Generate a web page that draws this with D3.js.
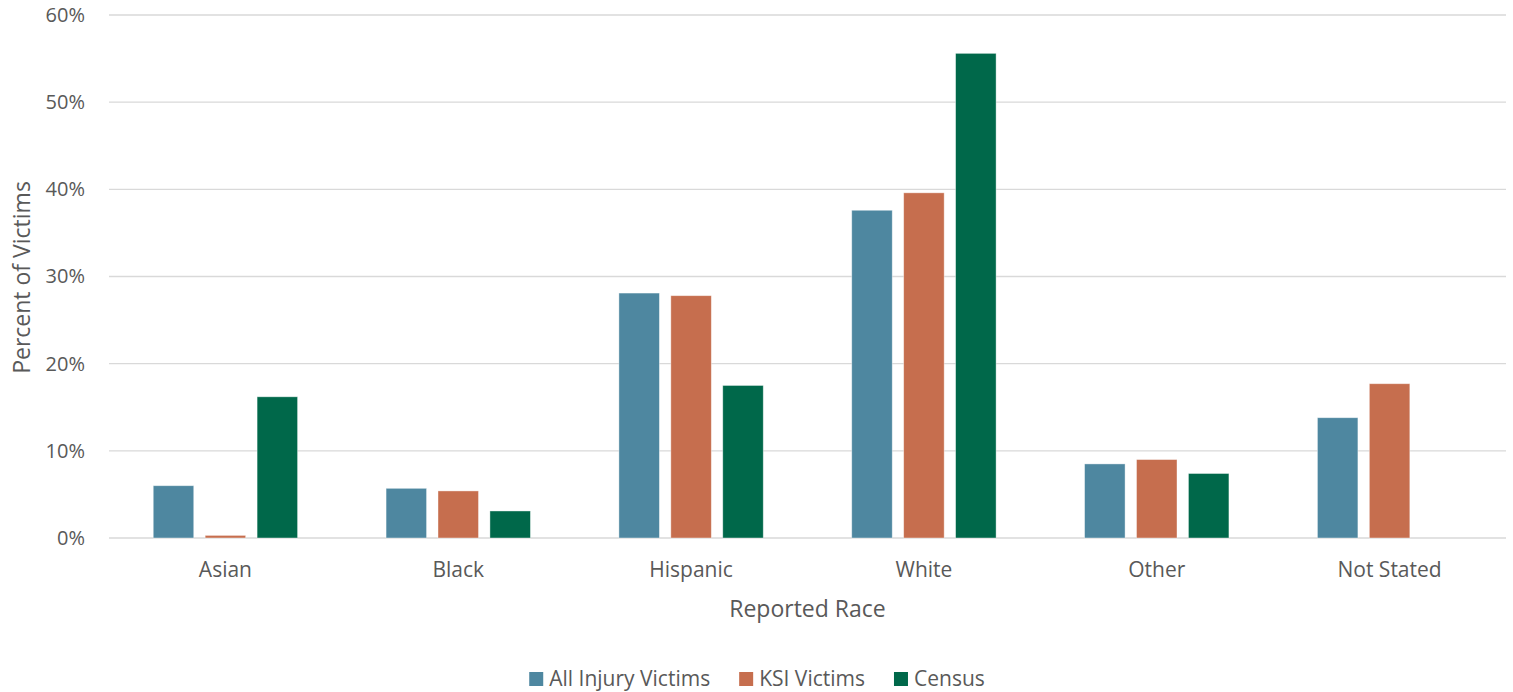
<!DOCTYPE html>
<html>
<head>
<meta charset="utf-8">
<script src="https://cdn.jsdelivr.net/npm/d3@7"></script>
<style>
  html, body { margin: 0; padding: 0; background: #fff; }
  svg { display: block; font-family: "Open Sans", "Segoe UI", sans-serif; }
</style>
</head>
<body>
<svg id="chart" width="1513" height="692"></svg>
<script>
// Share of victims by reported race, compared with census population
const categories = ["Asian", "Black", "Hispanic", "White", "Other", "Not Stated"];
const seriesNames = ["All Injury Victims", "KSI Victims", "Census"];
const allInjury = [6.0, 5.7, 28.1, 37.6, 8.5, 13.8];
const ksi = [0.3, 5.4, 27.8, 39.6, 9.0, 17.7];
const census = [16.2, 3.1, 17.5, 55.6, 7.4, null];
const yTicks = [0, 10, 20, 30, 40, 50, 60];
const colors = ["#4E87A0", "#C66E4E", "#00684A"];

const series = [allInjury, ksi, census];

const svg = d3.select("#chart");
const margin = { left: 109, right: 7, top: 15, bottom: 154 };
const W = 1513, H = 692;
const innerW = W - margin.left - margin.right;
const innerH = H - margin.top - margin.bottom;

const g = svg.append("g").attr("transform", `translate(${margin.left},${margin.top})`);

const x0 = d3.scaleBand().domain(categories).range([0, innerW]).paddingInner(0.38).paddingOuter(0.19);
const x1 = d3.scaleBand().domain(seriesNames).range([0, x0.bandwidth()]).paddingInner(0.22);
const y = d3.scaleLinear().domain([0, 60]).range([innerH, 0]);

// Horizontal gridlines
g.append("g")
  .selectAll("line")
  .data(yTicks)
  .join("line")
  .attr("x1", 0).attr("x2", innerW)
  .attr("y1", d => y(d)).attr("y2", d => y(d))
  .attr("stroke", "#D9D9D9").attr("stroke-width", 1.3);

// Y axis labels
const yAxis = g.append("g")
  .call(d3.axisLeft(y).tickValues(yTicks).tickFormat(d => d + "%").tickSize(0).tickPadding(24));
yAxis.select(".domain").remove();
yAxis.selectAll("text").attr("fill", "#595959").attr("font-size", 20).attr("font-family", "Open Sans, sans-serif");

// X axis labels
const xAxis = g.append("g")
  .attr("transform", `translate(0,${innerH})`)
  .call(d3.axisBottom(x0).tickSize(0).tickPadding(24));
xAxis.select(".domain").remove();
xAxis.selectAll("text").attr("fill", "#595959").attr("font-size", 21).attr("font-family", "Open Sans, sans-serif");

// Bars
const groups = g.append("g")
  .selectAll("g")
  .data(categories)
  .join("g")
  .attr("transform", d => `translate(${x0(d)},0)`);

groups.selectAll("rect")
  .data((c, i) => seriesNames.map((s, k) => ({ s, k, v: series[k][i] })).filter(d => d.v != null))
  .join("rect")
  .attr("x", d => x1(d.s))
  .attr("width", x1.bandwidth())
  .attr("y", d => y(d.v))
  .attr("height", d => y(0) - y(d.v))
  .attr("fill", d => colors[d.k])
  .attr("stroke", "#ffffff")
  .attr("stroke-opacity", 0.5)
  .attr("stroke-width", 0.8);

// Axis titles
svg.append("text")
  .attr("x", margin.left + innerW / 2)
  .attr("y", 617)
  .attr("text-anchor", "middle")
  .attr("fill", "#595959")
  .attr("font-size", 23)
  .text("Reported Race");

svg.append("text")
  .attr("transform", `translate(30,${margin.top + innerH / 2 + 1}) rotate(-90)`)
  .attr("text-anchor", "middle")
  .attr("fill", "#595959")
  .attr("font-size", 23)
  .text("Percent of Victims");

// Legend
const legend = svg.append("g");
const items = legend.selectAll("g").data(seriesNames).join("g");
items.append("rect")
  .attr("width", 14).attr("height", 14)
  .attr("y", -14)
  .attr("fill", (d, i) => colors[i]);
items.append("text")
  .attr("x", 20)
  .attr("y", 0)
  .attr("fill", "#595959")
  .attr("font-size", 21)
  .text(d => d);
items.each(function () {
  const w = this.getBBox().width;
  d3.select(this).attr("data-w", w);
});
const widths = items.nodes().map(n => +n.getAttribute("data-w"));
const gap = 29;
const total = d3.sum(widths) + gap * (widths.length - 1);
let start = 757 - total / 2;
items.attr("transform", (d, i) => {
  const t = `translate(${start},686)`;
  start += widths[i] + gap;
  return t;
});
</script>
</body>
</html>
